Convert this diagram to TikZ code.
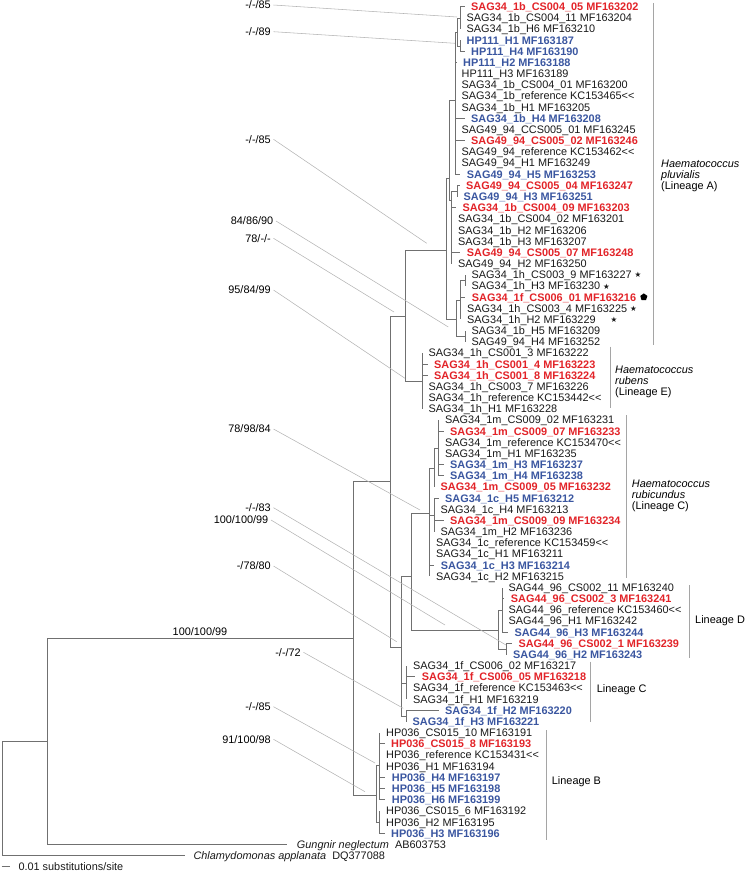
\documentclass[tikz,border=0pt]{standalone}
\usepackage{fontspec}
\setmainfont{Liberation Sans}
\newfontfamily\symfont{DejaVu Sans}
\usepackage{tikz}
\usetikzlibrary{shapes.geometric}
\definecolor{tipred}{RGB}{226,35,40}
\definecolor{tipblue}{RGB}{58,86,160}
\definecolor{treegray}{RGB}{112,112,112}
\definecolor{linkgray}{RGB}{180,180,180}
\definecolor{bargray}{RGB}{165,165,165}
\newcommand\tipfont{\fontsize{10.9}{11.3}\selectfont}
\newcommand\starmark{\raisebox{0.8pt}{\symfont\fontsize{7.5}{7.5}\selectfont ★}}
\newcommand\refsign{<\kern0pt<}
\tikzset{
  treeline/.style={draw=treegray, line width=0.9pt},
  tipname/.style={anchor=west, inner xsep=6.5pt, inner ysep=0pt,
    text height=7.8pt, text depth=0pt, font=\tipfont, text=black!90},
  tipredname/.style={tipname, font=\tipfont\bfseries, text=tipred},
  tipbluename/.style={tipname, font=\tipfont\bfseries, text=tipblue},
  bootlabel/.style={anchor=east, inner xsep=2.5pt, inner ysep=0pt,
    text height=7.8pt, text depth=0pt, font=\tipfont},
  bootlink/.style={draw=linkgray, line width=0.55pt},
  lineagebar/.style={draw=bargray, line width=0.8pt},
  lineagename/.style={anchor=west, align=left, inner sep=0pt, font=\tipfont},
  pentmark/.style={regular polygon, regular polygon sides=5, fill=black,
    inner sep=0pt, minimum size=7.5pt},
}

\begin{document}
\begin{tikzpicture}[x=1pt, y=-1pt]
\useasboundingbox (0,0) rectangle (745,872);
% internal nodes of the tree
\coordinate (root) at (2,741.7);
\coordinate (nOut) at (47.7,741.7);
\coordinate (nIn) at (353.3,638.3);
\coordinate (nMain) at (390,481.7);
\coordinate (nAE) at (405,316);
\coordinate (aBase) at (446,250);
\coordinate (aUp) at (449,178);
\coordinate (aPoly) at (455,100);
\coordinate (aTop) at (457.5,32);
\coordinate (aTopA) at (460,18);
\coordinate (aTopB) at (460,46);
\coordinate (aMid) at (451.5,200);
\coordinate (aPair) at (457,191);
\coordinate (aLow) at (456,319);
\coordinate (aStar) at (460.5,300);
\coordinate (aStarA) at (465,280.4);
\coordinate (aLast) at (465,336.2);
\coordinate (eBase) at (422,381.7);
\coordinate (nCDF) at (401.7,647);
\coordinate (nCD) at (411,576);
\coordinate (cBase) at (429.5,513);
\coordinate (cUp) at (434,468);
\coordinate (cUpA) at (438.5,448);
\coordinate (cMid) at (434,515);
\coordinate (dBase) at (498.3,630);
\coordinate (dUp) at (502,610);
\coordinate (dLow) at (506.5,649);
\coordinate (fUp) at (406.5,683);
\coordinate (fLow) at (406,716);
\coordinate (bBase) at (376,795);
\coordinate (bUp) at (379.5,765);
\coordinate (bLow) at (379.5,822);
% Lineage A
\node[tipredname] (t1) at (464.5,6.7) {SAG34\_1b\_CS004\_05 MF163202};
\node[tipname] (t2) at (460,17.87) {SAG34\_1b\_CS004\_11 MF163204};
\node[tipname] (t3) at (460,29.04) {SAG34\_1b\_H6 MF163210};
\node[tipbluename] (t4) at (460,40.21) {HP111\_H1 MF163187};
\node[tipbluename] (t5) at (464.5,51.38) {HP111\_H4 MF163190};
\node[tipbluename] (t6) at (456.5,62.55) {HP111\_H2 MF163188};
\node[tipname] (t7) at (455,73.72) {HP111\_H3 MF163189};
\node[tipname] (t8) at (455,84.89) {SAG34\_1b\_CS004\_01 MF163200};
\node[tipname] (t9) at (455,96.06) {SAG34\_1b\_reference KC153465\refsign};
\node[tipname] (t10) at (455,107.23) {SAG34\_1b\_H1 MF163205};
\node[tipbluename] (t11) at (464.5,118.40) {SAG34\_1b\_H4 MF163208};
\node[tipname] (t12) at (455,129.57) {SAG49\_94\_CCS005\_01 MF163245};
\node[tipredname] (t13) at (464.5,140.74) {SAG49\_94\_CS005\_02 MF163246};
\node[tipname] (t14) at (455,151.91) {SAG49\_94\_reference KC153462\refsign};
\node[tipname] (t15) at (455,163.08) {SAG49\_94\_H1 MF163249};
\node[tipbluename] (t16) at (460.2,174.25) {SAG49\_94\_H5 MF163253};
\node[tipredname] (t17) at (459.5,185.42) {SAG49\_94\_CS005\_04 MF163247};
\node[tipbluename] (t18) at (457,196.59) {SAG49\_94\_H3 MF163251};
\node[tipredname] (t19) at (455.8,207.76) {SAG34\_1b\_CS004\_09 MF163203};
\node[tipname] (t20) at (451.5,218.93) {SAG34\_1b\_CS004\_02 MF163201};
\node[tipname] (t21) at (451.5,230.10) {SAG34\_1b\_H2 MF163206};
\node[tipname] (t22) at (451.5,241.27) {SAG34\_1b\_H3 MF163207};
\node[tipredname] (t23) at (460.2,252.44) {SAG49\_94\_CS005\_07 MF163248};
\node[tipname] (t24) at (451.5,263.61) {SAG49\_94\_H2 MF163250};
\node[tipname] (t25) at (465,274.78) {SAG34\_1h\_CS003\_9 MF163227 \starmark};
\node[tipname] (t26) at (465,285.95) {SAG34\_1h\_H3 MF163230 \starmark};
\node[tipredname] (t27) at (465.2,297.12) {SAG34\_1f\_CS006\_01 MF163216};
\node[tipname] (t28) at (460.5,308.29) {SAG34\_1h\_CS003\_4 MF163225 \starmark};
\node[tipname] (t29) at (460.5,319.46) {SAG34\_1h\_H2 MF163229 \hspace{12pt}\starmark};
\node[tipname] (t30) at (465,330.63) {SAG34\_1b\_H5 MF163209};
\node[tipname] (t31) at (465,341.80) {SAG49\_94\_H4 MF163252};
\node[pentmark] (pent27) at ([xshift=1pt]t27.east) {};
% Lineage E
\node[tipname] (t32) at (422,352.97) {SAG34\_1h\_CS001\_3 MF163222};
\node[tipredname] (t33) at (427.5,364.14) {SAG34\_1h\_CS001\_4 MF163223};
\node[tipredname] (t34) at (427.5,375.31) {SAG34\_1h\_CS001\_8 MF163224};
\node[tipname] (t35) at (422,386.48) {SAG34\_1h\_CS003\_7 MF163226};
\node[tipname] (t36) at (422,397.65) {SAG34\_1h\_reference KC153442\refsign};
\node[tipname] (t37) at (422,408.82) {SAG34\_1h\_H1 MF163228};
% Lineage C (rubicundus)
\node[tipname] (t38) at (438.5,419.99) {SAG34\_1m\_CS009\_02 MF163231};
\node[tipredname] (t39) at (443.5,431.16) {SAG34\_1m\_CS009\_07 MF163233};
\node[tipname] (t40) at (438.5,442.33) {SAG34\_1m\_reference KC153470\refsign};
\node[tipname] (t41) at (438.5,453.50) {SAG34\_1m\_H1 MF163235};
\node[tipbluename] (t42) at (443.5,464.67) {SAG34\_1m\_H3 MF163237};
\node[tipbluename] (t43) at (443.5,475.84) {SAG34\_1m\_H4 MF163238};
\node[tipredname] (t44) at (434,487.01) {SAG34\_1m\_CS009\_05 MF163232};
\node[tipbluename] (t45) at (438.5,498.18) {SAG34\_1c\_H5 MF163212};
\node[tipname] (t46) at (434,509.35) {SAG34\_1c\_H4 MF163213};
\node[tipredname] (t47) at (443.5,520.52) {SAG34\_1m\_CS009\_09 MF163234};
\node[tipname] (t48) at (434,531.69) {SAG34\_1m\_H2 MF163236};
\node[tipname] (t49) at (429.5,542.86) {SAG34\_1c\_reference KC153459\refsign};
\node[tipname] (t50) at (429.5,554.03) {SAG34\_1c\_H1 MF163211};
\node[tipbluename] (t51) at (434.2,565.20) {SAG34\_1c\_H3 MF163214};
\node[tipname] (t52) at (429.5,576.37) {SAG34\_1c\_H2 MF163215};
% Lineage D
\node[tipname] (t53) at (502,587.54) {SAG44\_96\_CS002\_11 MF163240};
\node[tipredname] (t54) at (504.2,598.71) {SAG44\_96\_CS002\_3 MF163241};
\node[tipname] (t55) at (502,609.88) {SAG44\_96\_reference KC153460\refsign};
\node[tipname] (t56) at (502,621.05) {SAG44\_96\_H1 MF163242};
\node[tipbluename] (t57) at (507.8,632.22) {SAG44\_96\_H3 MF163244};
\node[tipredname] (t58) at (511.8,643.39) {SAG44\_96\_CS002\_1 MF163239};
\node[tipbluename] (t59) at (506.5,654.56) {SAG44\_96\_H2 MF163243};
% Lineage C (1f)
\node[tipname] (t60) at (406.5,665.73) {SAG34\_1f\_CS006\_02 MF163217};
\node[tipredname] (t61) at (415.2,676.90) {SAG34\_1f\_CS006\_05 MF163218};
\node[tipname] (t62) at (406.5,688.07) {SAG34\_1f\_reference KC153463\refsign};
\node[tipname] (t63) at (406.5,699.24) {SAG34\_1f\_H1 MF163219};
\node[tipbluename] (t64) at (438.5,710.41) {SAG34\_1f\_H2 MF163220};
\node[tipbluename] (t65) at (406,721.58) {SAG34\_1f\_H3 MF163221};
% Lineage B
\node[tipname] (t66) at (379.5,732.75) {HP036\_CS015\_10 MF163191};
\node[tipredname] (t67) at (384.5,743.92) {HP036\_CS015\_8 MF163193};
\node[tipname] (t68) at (379.5,755.09) {HP036\_reference KC153431\refsign};
\node[tipname] (t69) at (379.5,766.26) {HP036\_H1 MF163194};
\node[tipbluename] (t70) at (385.2,777.43) {HP036\_H4 MF163197};
\node[tipbluename] (t71) at (385.2,788.60) {HP036\_H5 MF163198};
\node[tipbluename] (t72) at (385.2,799.77) {HP036\_H6 MF163199};
\node[tipname] (t73) at (379.5,810.94) {HP036\_CS015\_6 MF163192};
\node[tipname] (t74) at (379.5,822.11) {HP036\_H2 MF163195};
\node[tipbluename] (t75) at (384.5,833.28) {HP036\_H3 MF163196};
% outgroups
\node[tipname, inner xsep=10pt] (t76) at (286.7,844.45) {\textit{Gungnir neglectum}~~AB603753};
\node[tipname, inner xsep=8.3pt] (t77) at (185,855.62) {\textit{Chlamydomonas applanata}~~DQ377088};
% branches
\draw[treeline] (root) |- (nOut) (root) |- (t77.west);
\draw[treeline] (nOut) |- (nIn) (nOut) |- (t76.west);
\draw[treeline] (nIn) |- (nMain) (nIn) |- (bBase);
\draw[treeline] (nMain) |- (nAE) (nMain) |- (nCDF);
\draw[treeline] (nAE) |- (aBase) (nAE) |- (eBase);
\draw[treeline] (aBase) |- (aUp) (aBase) |- (aLow);
\draw[treeline] (aUp) |- (aPoly) (aUp) |- (aMid);
\draw[treeline] (aPoly) |- (aTop) (aPoly) |- (t6.west) (aPoly) |- (t7.west)
  (aPoly) |- (t8.west) (aPoly) |- (t9.west) (aPoly) |- (t10.west)
  (aPoly) |- (t11.west) (aPoly) |- (t12.west) (aPoly) |- (t13.west)
  (aPoly) |- (t14.west) (aPoly) |- (t15.west) (aPoly) |- (t16.west);
\draw[treeline] (aTop) |- (aTopA) (aTop) |- (aTopB);
\draw[treeline] (aTopA) |- (t1.west) (aTopA) |- (t2.west) (aTopA) |- (t3.west);
\draw[treeline] (aTopB) |- (t4.west) (aTopB) |- (t5.west);
\draw[treeline] (aMid) |- (aPair) (aMid) |- (t19.west) (aMid) |- (t20.west)
  (aMid) |- (t21.west) (aMid) |- (t22.west) (aMid) |- (t23.west) (aMid) |- (t24.west);
\draw[treeline] (aPair) |- (t17.west) (aPair) |- (t18.west);
\draw[treeline] (aLow) |- (aStar) (aLow) |- (aLast);
\draw[treeline] (aStar) |- (aStarA) (aStar) |- (t27.west) (aStar) |- (t28.west) (aStar) |- (t29.west);
\draw[treeline] (aStarA) |- (t25.west) (aStarA) |- (t26.west);
\draw[treeline] (aLast) |- (t30.west) (aLast) |- (t31.west);
\draw[treeline] (eBase) |- (t32.west) (eBase) |- (t33.west) (eBase) |- (t34.west)
  (eBase) |- (t35.west) (eBase) |- (t36.west) (eBase) |- (t37.west);
\draw[treeline] (nCDF) |- (nCD) (nCDF) |- (fUp) (nCDF) |- (fLow);
\draw[treeline] (nCD) |- (cBase) (nCD) |- (dBase);
\draw[treeline] (cBase) |- (cUp) (cBase) |- (cMid) (cBase) |- (t49.west)
  (cBase) |- (t50.west) (cBase) |- (t51.west) (cBase) |- (t52.west);
\draw[treeline] (cUp) |- (cUpA) (cUp) |- (t44.west);
\draw[treeline] (cUpA) |- (t38.west) (cUpA) |- (t39.west) (cUpA) |- (t40.west)
  (cUpA) |- (t41.west) (cUpA) |- (t42.west) (cUpA) |- (t43.west);
\draw[treeline] (cMid) |- (t45.west) (cMid) |- (t46.west) (cMid) |- (t47.west) (cMid) |- (t48.west);
\draw[treeline] (dBase) |- (dUp) (dBase) |- (dLow);
\draw[treeline] (dUp) |- (t53.west) (dUp) |- (t54.west) (dUp) |- (t55.west)
  (dUp) |- (t56.west) (dUp) |- (t57.west);
\draw[treeline] (dLow) |- (t58.west) (dLow) |- (t59.west);
\draw[treeline] (fUp) |- (t60.west) (fUp) |- (t61.west) (fUp) |- (t62.west) (fUp) |- (t63.west);
\draw[treeline] (fLow) |- (t64.west) (fLow) |- (t65.west);
\draw[treeline] (bBase) |- (bUp) (bBase) |- (bLow);
\draw[treeline] (bUp) |- (t66.west) (bUp) |- (t67.west) (bUp) |- (t68.west)
  (bUp) |- (t69.west) (bUp) |- (t70.west) (bUp) |- (t71.west) (bUp) |- (t72.west);
\draw[treeline] (bLow) |- (t73.west) (bLow) |- (t74.west) (bLow) |- (t75.west);
% support values and their pointers
\node[bootlabel] (bs1) at (273.5,5) {-/-/85};
\node[bootlabel] (bs2) at (273.5,31.7) {-/-/89};
\node[bootlabel] (bs3) at (273.5,139.3) {-/-/85};
\node[bootlabel] (bs4) at (276,221) {84/86/90};
\node[bootlabel] (bs5) at (273.5,238.3) {78/-/-};
\node[bootlabel] (bs6) at (273.5,290) {95/84/99};
\node[bootlabel] (bs7) at (273.5,429) {78/98/84};
\node[bootlabel] (bs8) at (273.5,507.7) {-/-/83};
\node[bootlabel] (bs9) at (271,520) {100/100/99};
\node[bootlabel] (bs10) at (273.5,566) {-/78/80};
\node[bootlabel, anchor=center] (bs11) at (200,631.7) {100/100/99};
\node[bootlabel] (bs12) at (303.5,652.3) {-/-/72};
\node[bootlabel] (bs13) at (273.5,706.7) {-/-/85};
\node[bootlabel] (bs14) at (273.5,739.3) {91/100/98};
\coordinate (bs1end) at (457,17);
\coordinate (bs2end) at (455,43.3);
\coordinate (bs3end) at (426.7,243.3);
\coordinate (bs4end) at (448.3,327);
\coordinate (bs5end) at (394,312);
\coordinate (bs6end) at (405,378.3);
\coordinate (bs7end) at (420,510);
\coordinate (bs8end) at (506,645);
\coordinate (bs9end) at (445,625);
\coordinate (bs10end) at (396.7,641.7);
\coordinate (bs12end) at (403.3,708.3);
\coordinate (bs13end) at (375,763);
\coordinate (bs14end) at (365,791.7);
\draw[bootlink] (bs1.east) -- (bs1end);
\draw[bootlink] (bs2.east) -- (bs2end);
\draw[bootlink] (bs3.east) -- (bs3end);
\draw[bootlink] (bs4.east) -- (bs4end);
\draw[bootlink] (bs5.east) -- (bs5end);
\draw[bootlink] (bs6.east) -- (bs6end);
\draw[bootlink] (bs7.east) -- (bs7end);
\draw[bootlink] (bs8.east) -- (bs8end);
\draw[bootlink] (bs9.east) -- (bs9end);
\draw[bootlink] (bs10.east) -- (bs10end);
\draw[bootlink] (bs12.east) -- (bs12end);
\draw[bootlink] (bs13.east) -- (bs13end);
\draw[bootlink] (bs14.east) -- (bs14end);
% lineage bars
\coordinate (barAtop) at (653.3,3);
\coordinate (barAbot) at (653.3,345);
\coordinate (barEtop) at (610,346.7);
\coordinate (barEbot) at (610,408.3);
\coordinate (barRtop) at (626.7,415);
\coordinate (barRbot) at (626.7,578);
\coordinate (barDtop) at (689.3,585);
\coordinate (barDbot) at (689.3,658.3);
\coordinate (barCtop) at (590.7,661.7);
\coordinate (barCbot) at (590.7,721.7);
\coordinate (barBtop) at (546.7,730);
\coordinate (barBbot) at (546.7,840);
\draw[lineagebar] (barAtop) -- (barAbot);
\draw[lineagebar] (barEtop) -- (barEbot);
\draw[lineagebar] (barRtop) -- (barRbot);
\draw[lineagebar] (barDtop) -- (barDbot);
\draw[lineagebar] (barCtop) -- (barCbot);
\draw[lineagebar] (barBtop) -- (barBbot);
\node[lineagename] (linA) at (661,175.8) {\textit{Haematococcus}\\\textit{pluvialis}\\(Lineage A)};
\node[lineagename] (linE) at (615,381.8) {\textit{Haematococcus}\\\textit{rubens}\\(Lineage E)};
\node[lineagename] (linR) at (631.7,496) {\textit{Haematococcus}\\\textit{rubicundus}\\(Lineage C)};
\node[lineagename] (linD) at (695,621) {Lineage D};
\node[lineagename] (linC) at (596.7,689.3) {Lineage C};
\node[lineagename] (linB) at (551.7,781.7) {Lineage B};
% scale bar
\coordinate (scaleL) at (1.7,866.5);
\node[tipname, inner xsep=8.3pt] (scale) at (10,866.5) {0.01 substitutions/site};
\draw[treeline] (scaleL) -- (scale.west);
\end{tikzpicture}
\end{document}
